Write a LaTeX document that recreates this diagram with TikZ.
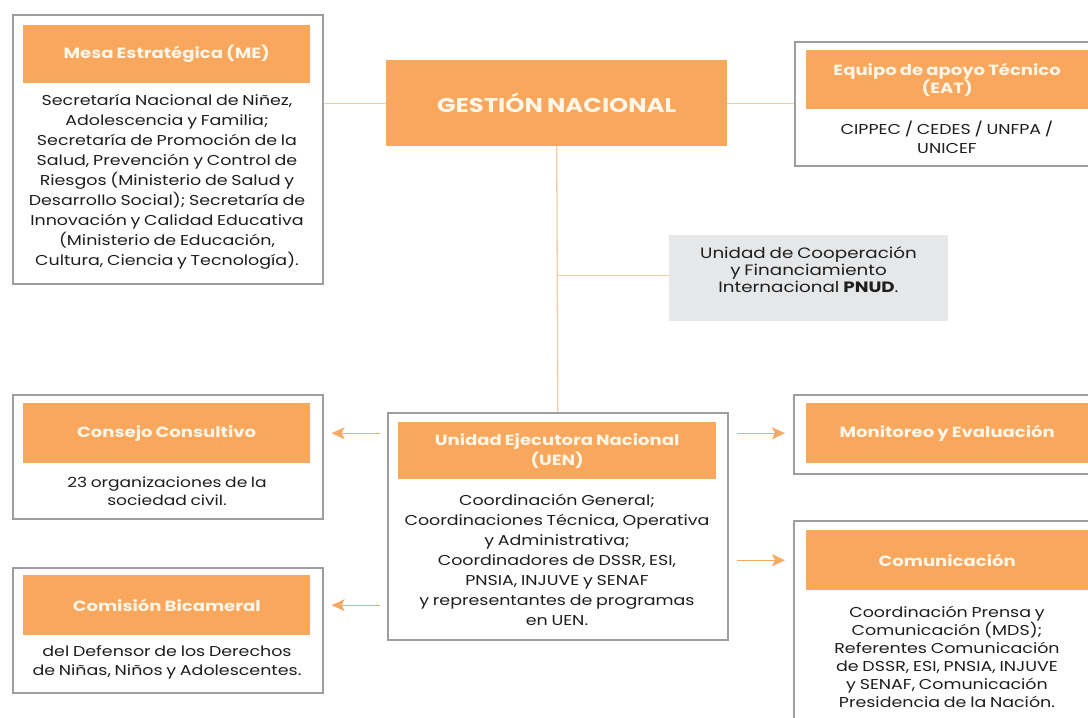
\documentclass[tikz,border=0pt]{standalone}
\usepackage{fontspec}
\setmainfont{Poppins}[FakeStretch=1.22, WordSpace=0.8]
\usetikzlibrary{arrows.meta,calc}
\definecolor{org}{RGB}{249,167,92}
\definecolor{hdtxt}{RGB}{255,246,232}
\definecolor{bodytxt}{RGB}{30,30,30}
\definecolor{frame}{RGB}{158,158,160}
\definecolor{conn}{RGB}{242,205,165}
\definecolor{arrc}{RGB}{246,170,100}
\definecolor{grayfill}{RGB}{230,231,233}
\tikzset{
  outerbox/.style={draw=frame, line width=1.6pt, fill=white, anchor=north west, inner sep=0pt},
  hdr/.style={fill=org, text=hdtxt, anchor=north west, inner sep=0pt, align=center,
    font=\fontsize{14.8}{18.5}\selectfont\bfseries},
  body/.style={text=bodytxt, align=center, inner sep=0pt,
    font=\fontsize{14.3}{20}\selectfont},
  conline/.style={draw=conn, line width=1.3pt},
  arr/.style={draw=arrc, line width=1.4pt, -{Stealth[length=13pt,width=12pt,inset=3pt]}},
}
\begin{document}
\begin{tikzpicture}[x=1pt,y=-1pt]
\useasboundingbox (0,0) rectangle (1088,718);
\clip (0,0) rectangle (1088,718);
\fill[white] (0,0) rectangle (1088,718);

% Mesa Estrategica
\node[outerbox, minimum width=310pt, minimum height=269pt] (mesa) at (12,14) {};
\node[hdr, minimum width=287pt, minimum height=58pt] (mesaH) at (23,25) {Mesa Estratégica (ME)};
\node[body] (mesaB) at (167,181.5) {Secretaría Nacional de Niñez,\\Adolescencia y Familia;\\Secretaría de Promoción de la\\Salud, Prevención y Control de\\Riesgos (Ministerio de Salud y\\Desarrollo Social); Secretaría de\\Innovación y Calidad Educativa\\(Ministerio de Educación,\\Cultura, Ciencia y Tecnología).};

% Gestion Nacional
\node[fill=org, text=hdtxt, anchor=north west, inner sep=0pt, minimum width=341pt, minimum height=86pt,
  font=\fontsize{20}{22}\selectfont\bfseries] (gest) at (386,60) {GESTIÓN NACIONAL};

% EAT
\node[outerbox, minimum width=306pt, minimum height=124pt] (eat) at (794,41) {};
\node[hdr, minimum width=282pt, minimum height=59pt, font=\fontsize{14.8}{17.5}\selectfont\bfseries] (eatH) at (806,50) {Equipo de apoyo Técnico\\(EAT)};
\node[body, font=\fontsize{14.3}{19}\selectfont] (eatB) at (947,137) {CIPPEC / CEDES / UNFPA /\\UNICEF};

% Unidad de Cooperacion
\node[fill=grayfill, anchor=north west, inner sep=0pt, minimum width=279pt, minimum height=86pt] (unit) at (669,235) {};
\node[text=bodytxt, align=center, inner sep=0pt, font=\fontsize{15}{17}\selectfont] (unitT) at (808.5,270)
  {Unidad de Cooperación\\y Financiamiento\\Internacional \textbf{PNUD}.};

% Consejo Consultivo
\node[outerbox, minimum width=310pt, minimum height=124pt] (cons) at (12,394) {};
\node[hdr, minimum width=287pt, minimum height=60pt] (consH) at (23,403) {Consejo Consultivo};
\node[body, font=\fontsize{14}{18.5}\selectfont] (consB) at (167,491) {23 organizaciones de la\\sociedad civil.};

% Comision Bicameral
\node[outerbox, minimum width=310pt, minimum height=125pt] (comi) at (12,567) {};
\node[hdr, minimum width=287pt, minimum height=60pt] (comiH) at (23,575) {Comisión Bicameral};
\node[body, font=\fontsize{14.3}{19}\selectfont] (comiB) at (167,662.5) {del Defensor de los Derechos\\de Niñas, Niños y Adolescentes.};

% UEN
\node[outerbox, minimum width=340pt, minimum height=227pt] (uen) at (387,412) {};
\node[hdr, minimum width=318pt, minimum height=57pt, font=\fontsize{14.8}{20}\selectfont\bfseries] (uenH) at (398,422) {Unidad Ejecutora Nacional\\(UEN)};
\node[body] (uenB) at (557,559.5) {Coordinación General;\\Coordinaciones Técnica, Operativa\\y Administrativa;\\Coordinadores de DSSR, ESI,\\PNSIA, INJUVE y SENAF\\y representantes de programas\\en UEN.};

% Monitoreo
\node[outerbox, minimum width=307pt, minimum height=79pt] (moni) at (793,394) {};
\node[hdr, minimum width=282pt, minimum height=60pt] (moniH) at (806,403) {Monitoreo y Evaluación};

% Comunicacion
\node[outerbox, minimum width=307pt, minimum height=220pt] (comu) at (793,520) {};
\node[hdr, minimum width=282pt, minimum height=60pt] (comuH) at (806,530) {Comunicación};
\node[body, font=\fontsize{14.3}{18}\selectfont] (comuB) at (947,657) {Coordinación Prensa y\\Comunicación (MDS);\\Referentes Comunicación\\de DSSR, ESI, PNSIA, INJUVE\\y SENAF, Comunicación\\Presidencia de la Nación.};

% connectors
\draw[conline] (gest.west) -- (gest.west -| mesa.east);
\draw[conline] (gest.east) -- (gest.east -| eat.west);
\draw[conline] (gest.south) -- (uen.north);
\draw[conline] ([yshift=3pt]unit.west) -- ([yshift=3pt]unit.west -| gest.south);

\draw[arr] ([xshift=-7pt]uen.west |- consH.west) -- ([xshift=8pt]cons.east |- consH.east);
\draw[arr] ([xshift=-7pt]uen.west |- comiH.west) -- ([xshift=8pt]comi.east |- comiH.east);
\draw[arr] ([xshift=8pt]uen.east |- moniH.west) -- ([xshift=-8pt]moni.west |- moniH.west);
\draw[arr] ([xshift=8pt]uen.east |- comuH.west) -- ([xshift=-8pt]comu.west |- comuH.west);
\end{tikzpicture}
\end{document}
